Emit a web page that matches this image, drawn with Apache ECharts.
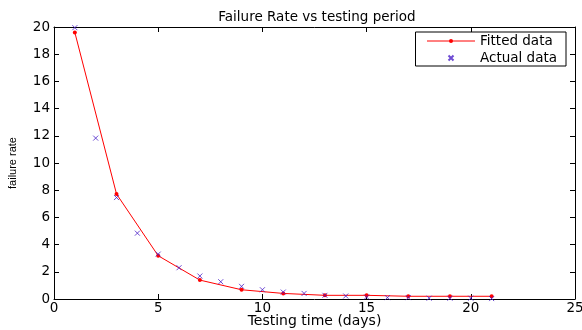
<!DOCTYPE html>
<html><head><meta charset="utf-8">
<script src="https://cdn.jsdelivr.net/npm/echarts@6/dist/echarts.min.js"></script>
<style>html,body{margin:0;padding:0;background:#fff}#c{width:582px;height:330px}</style>
</head><body><div id="c"></div>
<script>
const fittedX = [1, 3, 5, 7, 9, 11, 13, 15, 17, 19, 21];
const fittedY = [19.6, 7.72, 3.18, 1.39, 0.68, 0.41, 0.27, 0.27, 0.2, 0.2, 0.2];
const actualX = [1, 2, 3, 4, 5, 6, 7, 8, 9, 10, 11, 12, 13, 14, 15, 16, 17, 18, 19, 20, 21];
const actualY = [19.95, 11.83, 7.46, 4.84, 3.3, 2.3, 1.69, 1.27, 0.93, 0.68, 0.51, 0.41, 0.27, 0.22, 0.15, 0.1, 0.1, 0.06, 0.06, 0.06, 0.03];
const xTicks = [0, 5, 10, 15, 20, 25];
const yTicks = [0, 2, 4, 6, 8, 10, 12, 14, 16, 18, 20];

const wide = '"DejaVu Sans", Verdana, sans-serif';
const narrow = '"Liberation Sans", Arial, sans-serif';
const chart = echarts.init(document.getElementById('c'), null, {renderer: 'canvas'});
const axisCommon = {
  axisLine: {show: true, onZero: false, lineStyle: {color: '#000', width: 1}},
  axisTick: {show: true, inside: true, length: 5, lineStyle: {color: '#000'}},
  splitLine: {show: false}
};
chart.setOption({
  animation: false,
  backgroundColor: '#fff',
  title: {text: 'Failure Rate vs testing period', left: 312, top: 5, textAlign: 'center',
    textStyle: {fontFamily: wide, fontSize: 13.5, fontWeight: 'normal', color: '#000'}},
  grid: {left: 54, right: 7, top: 27, bottom: 31, outerBoundsMode: 'none', containLabel: false},
  legend: {
    right: 16, top: 32, orient: 'vertical', itemGap: 1, itemWidth: 48, itemHeight: 5,
    padding: [1, 9, 0, 11], borderColor: '#000', borderWidth: 1, backgroundColor: '#fff',
    textStyle: {fontFamily: wide, fontSize: 13.5, color: '#000', lineHeight: 16},
    data: [
      {name: 'Fitted data', lineStyle: {width: 1, color: '#ff0000'}, itemStyle: {color: '#ff0000'}},
      {name: 'Actual data'}
    ]
  },
  xAxis: [
    Object.assign({type: 'value', min: xTicks[0], max: xTicks[xTicks.length - 1], interval: 5,
      name: 'Testing time (days)', nameLocation: 'middle', nameGap: 15, nameMoveOverlap: false,
      nameTextStyle: {fontFamily: wide, fontSize: 14, color: '#000'},
      axisLabel: {fontFamily: wide, fontSize: 13.5, color: '#000', margin: 2}}, axisCommon),
    Object.assign({type: 'value', position: 'top', min: 0, max: 25, interval: 5,
      axisLabel: {show: false}}, axisCommon)
  ],
  yAxis: [
    Object.assign({type: 'value', min: yTicks[0], max: yTicks[yTicks.length - 1], interval: 2,
      name: 'failure rate', nameLocation: 'middle', nameGap: 36, nameMoveOverlap: false,
      nameTextStyle: {fontFamily: narrow, fontSize: 11, color: '#000'},
      axisLabel: {fontFamily: wide, fontSize: 13.5, color: '#000', margin: 4}}, axisCommon),
    Object.assign({type: 'value', position: 'right', min: 0, max: 20, interval: 2,
      axisLabel: {show: false}}, axisCommon)
  ],
  series: [
    {name: 'Fitted data', type: 'line', data: fittedX.map((x, i) => [x, fittedY[i]]),
      symbol: 'circle', symbolSize: 4, showAllSymbol: true,
      lineStyle: {color: '#ff0000', width: 1}, itemStyle: {color: '#ff0000'}, z: 2},
    {name: 'Actual data', type: 'scatter', data: actualX.map((x, i) => [x, actualY[i]]),
      symbol: 'path://M0,0L10,10M10,0L0,10', symbolSize: 5,
      itemStyle: {color: 'transparent', borderColor: '#4a1fc8', borderWidth: 1}, z: 3}
  ]
});
</script></body></html>
